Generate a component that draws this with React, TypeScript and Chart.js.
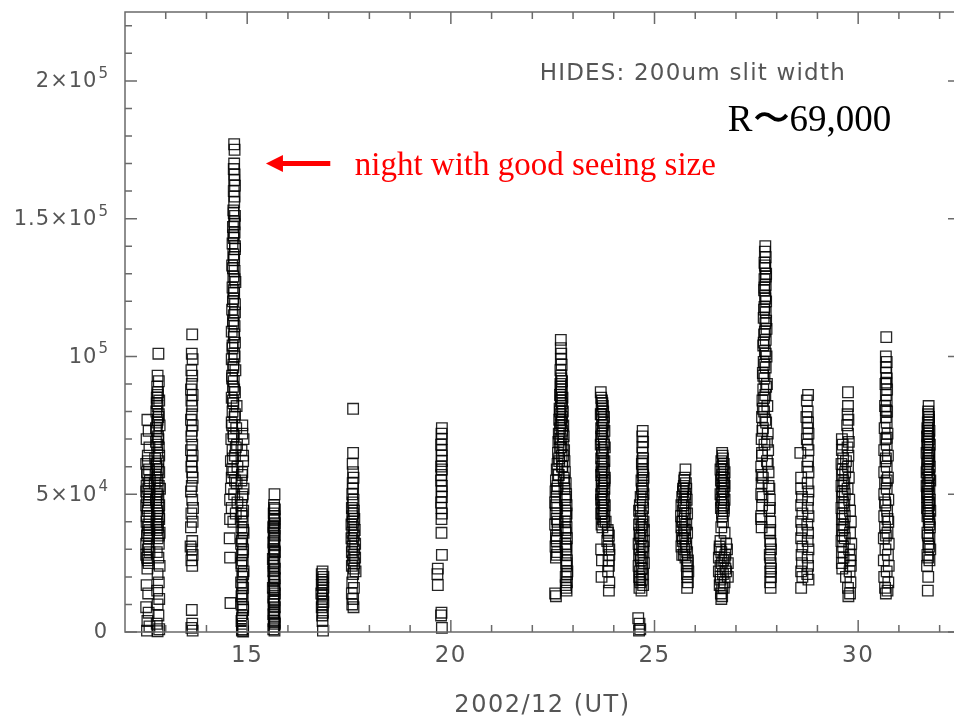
import { useEffect, useRef } from 'react';
import { Chart, registerables } from 'chart.js';

Chart.register(...registerables);

// ---- axis ranges and tick labels ----
const xMin = 12;
const xMax = 32.5;
const yMin = 0;
const yMax = 225000;
const xMajorTicks = [15, 20, 25, 30];
const xTickLabels = ['15', '20', '25', '30'];
const yMajorTicks = [0, 50000, 100000, 150000, 200000];
const yTickBase = ['0', '5×10', '10', '1.5×10', '2×10'];
const yTickExp = ['', '4', '5', '5', '5'];
const xMinorTicks = [13, 14, 16, 17, 18, 19, 21, 22, 23, 24, 26, 27, 28, 29, 31, 32];
const yMinorTicks = [10000, 20000, 30000, 40000, 60000, 70000, 80000, 90000, 110000, 120000, 130000, 140000, 160000, 170000, 180000, 190000, 210000, 220000];
const xTitle = '2002/12 (UT)';
const noteHides = 'HIDES: 200um slit width';
const noteR = 'R〜69,000';
const noteNight = 'night with good seeing size';

// ---- data: [day (UT, 2002/12), counts / 1000] per night ----
const night12: number[][] = [
  [12.55, 77], [12.58, 73], [12.53, 70], [12.6, 67], [12.56, 64], [12.52, 61], [12.59, 59], [12.55, 57], [12.61, 55], [12.53, 53],
  [12.57, 52], [12.6, 50], [12.54, 49], [12.58, 47], [12.52, 46], [12.56, 44], [12.6, 42], [12.53, 40], [12.57, 38], [12.55, 36],
  [12.59, 34], [12.52, 32], [12.56, 30], [12.6, 29], [12.54, 27], [12.58, 25], [12.55, 23], [12.53, 17], [12.57, 14], [12.52, 9],
  [12.58, 7], [12.55, 4], [12.6, 2], [12.54, 0.5],
  [12.56, 62], [12.54, 58], [12.58, 54], [12.52, 51], [12.59, 48], [12.55, 45], [12.53, 42], [12.57, 39], [12.6, 37], [12.54, 35],
  [12.58, 31], [12.52, 28], [12.56, 26],
  [12.82, 101], [12.8, 93], [12.83, 91], [12.79, 89], [12.81, 87], [12.78, 85], [12.84, 84], [12.8, 82], [12.77, 80], [12.82, 78],
  [12.79, 76], [12.85, 75], [12.78, 73], [12.81, 71], [12.76, 69], [12.83, 67], [12.79, 65], [12.74, 63], [12.82, 62], [12.77, 60],
  [12.84, 58], [12.75, 57], [12.8, 55], [12.73, 54], [12.86, 52], [12.78, 51], [12.82, 49], [12.76, 48], [12.84, 46], [12.79, 44],
  [12.83, 42], [12.77, 40], [12.81, 38], [12.85, 36], [12.8, 34], [12.83, 32], [12.78, 29], [12.82, 27], [12.85, 24], [12.8, 21],
  [12.83, 18], [12.79, 15], [12.84, 12], [12.8, 10], [12.82, 6], [12.78, 3], [12.84, 1], [12.8, 0.3],
  [12.8, 86], [12.78, 83], [12.83, 79], [12.8, 77], [12.76, 74], [12.82, 70], [12.79, 68], [12.84, 64], [12.77, 61], [12.81, 59],
  [12.78, 56], [12.83, 53], [12.8, 50], [12.77, 47], [12.82, 45], [12.79, 43], [12.84, 41], [12.8, 39], [12.78, 37], [12.83, 35],
];
const night13: number[][] = [
  [13.65, 108], [13.64, 101], [13.66, 99], [13.63, 95], [13.65, 93], [13.64, 90], [13.62, 88], [13.66, 86], [13.63, 84], [13.65, 82],
  [13.64, 79], [13.62, 77], [13.66, 75], [13.64, 73], [13.63, 71], [13.65, 68], [13.62, 66], [13.66, 64], [13.64, 62], [13.63, 60],
  [13.65, 58], [13.66, 56], [13.64, 53], [13.62, 51], [13.65, 48], [13.67, 45], [13.63, 43], [13.66, 40], [13.62, 38], [13.65, 33],
  [13.61, 31], [13.64, 30], [13.66, 28], [13.63, 26], [13.65, 24], [13.64, 8], [13.65, 3], [13.63, 1.5], [13.66, 0.5],
];
const night14: number[][] = [
  [14.68, 177], [14.69, 175], [14.68, 170], [14.67, 168], [14.69, 166], [14.68, 164], [14.7, 162], [14.67, 160], [14.69, 158], [14.68, 156],
  [14.66, 153], [14.7, 151], [14.68, 149], [14.65, 147], [14.69, 145], [14.67, 143], [14.64, 141], [14.7, 139], [14.66, 137], [14.68, 135],
  [14.63, 133], [14.69, 131], [14.66, 129], [14.71, 127], [14.64, 125], [14.68, 123], [14.66, 121], [14.7, 119], [14.63, 117], [14.67, 115],
  [14.65, 113], [14.69, 111], [14.62, 109], [14.67, 107], [14.7, 105], [14.64, 103], [14.68, 101], [14.62, 99], [14.66, 97], [14.71, 95],
  [14.63, 93], [14.67, 91], [14.65, 89], [14.7, 87], [14.62, 85], [14.66, 83], [14.74, 82], [14.64, 80], [14.69, 78], [14.62, 76],
  [14.73, 74], [14.66, 72], [14.61, 70], [14.75, 68], [14.64, 66], [14.7, 64], [14.6, 62], [14.76, 60], [14.66, 58], [14.62, 56],
  [14.74, 54], [14.6, 52], [14.68, 50], [14.58, 48], [14.76, 47], [14.62, 45], [14.72, 43], [14.58, 41], [14.66, 40], [14.57, 34],
  [14.58, 27], [14.59, 10.5],
  [14.67, 152], [14.69, 148], [14.66, 144], [14.7, 140], [14.67, 136], [14.65, 132], [14.69, 128], [14.67, 124], [14.65, 120], [14.7, 116],
  [14.66, 112], [14.68, 108], [14.64, 104], [14.69, 100], [14.66, 96], [14.63, 92], [14.68, 88], [14.65, 84], [14.7, 79], [14.63, 75],
  [14.67, 71], [14.72, 67], [14.65, 63], [14.63, 59], [14.7, 55],
  [14.88, 75], [14.91, 70], [14.86, 66], [14.9, 62], [14.88, 58], [14.86, 55], [14.91, 52], [14.88, 49], [14.86, 46], [14.9, 44],
  [14.87, 42], [14.89, 40], [14.86, 38], [14.91, 36], [14.88, 34], [14.85, 32], [14.9, 30], [14.87, 28], [14.89, 26], [14.86, 24],
  [14.91, 22], [14.88, 20], [14.85, 18], [14.9, 16], [14.87, 14], [14.89, 12], [14.86, 10], [14.9, 8], [14.88, 6], [14.86, 4],
  [14.89, 2], [14.87, 0.5], [14.9, 0.2],
  [14.88, 72], [14.9, 64], [14.87, 57], [14.89, 50], [14.86, 43], [14.9, 37], [14.87, 33], [14.89, 29], [14.86, 25], [14.9, 21],
  [14.88, 17], [14.86, 13], [14.9, 9], [14.87, 5], [14.89, 3], [14.88, 1],
];
const night15: number[][] = [
  [15.67, 50], [15.66, 46], [15.68, 44.5], [15.65, 43], [15.67, 42], [15.66, 40.5], [15.68, 39.5], [15.64, 38], [15.67, 37.5], [15.65, 36],
  [15.68, 35], [15.66, 34], [15.64, 32.5], [15.67, 31.5], [15.65, 30], [15.68, 29], [15.66, 28], [15.63, 26.5], [15.67, 25.5], [15.65, 24],
  [15.68, 23], [15.64, 22], [15.66, 21], [15.68, 19.5], [15.65, 18.5], [15.67, 17], [15.63, 16], [15.66, 15], [15.68, 14], [15.64, 12.5],
  [15.67, 11.5], [15.65, 10], [15.68, 9], [15.66, 8], [15.64, 6.5], [15.67, 5.5], [15.65, 4], [15.68, 3], [15.66, 2], [15.64, 1],
  [15.67, 0.5],
  [15.66, 45], [15.67, 41], [15.65, 38.5], [15.66, 33], [15.67, 29.5], [15.65, 25], [15.66, 20], [15.67, 15.5], [15.65, 11], [15.66, 7],
  [15.67, 3.5],
];
const night16: number[][] = [
  [16.85, 22], [16.83, 21], [16.87, 20], [16.84, 19], [16.86, 18], [16.83, 17], [16.87, 16], [16.85, 15], [16.82, 14], [16.86, 13.5],
  [16.84, 12], [16.87, 11], [16.85, 10], [16.83, 9], [16.86, 7], [16.84, 6], [16.85, 4], [16.86, 0.5],
];
const night17: number[][] = [
  [17.6, 81], [17.6, 65], [17.59, 61], [17.6, 58], [17.61, 56], [17.59, 54], [17.6, 52], [17.58, 50], [17.61, 48], [17.59, 47],
  [17.57, 45], [17.62, 44], [17.6, 43], [17.58, 42], [17.63, 41], [17.59, 40], [17.56, 39], [17.61, 38], [17.64, 37], [17.58, 36],
  [17.62, 35], [17.56, 34], [17.6, 33], [17.65, 32], [17.58, 31], [17.63, 30], [17.57, 29], [17.61, 28], [17.65, 27], [17.59, 26],
  [17.63, 25], [17.57, 24], [17.62, 23], [17.66, 22], [17.6, 21], [17.58, 18], [17.62, 16], [17.57, 14], [17.6, 12], [17.58, 10],
  [17.61, 9],
];
const night19: number[][] = [
  [19.78, 74], [19.77, 72], [19.78, 70], [19.76, 68], [19.78, 66], [19.77, 64], [19.78, 62], [19.76, 60], [19.78, 59], [19.77, 57],
  [19.76, 55], [19.78, 53], [19.77, 51], [19.78, 49], [19.76, 47], [19.77, 45], [19.78, 43], [19.77, 41], [19.77, 36], [19.78, 28],
  [19.68, 23], [19.67, 21], [19.68, 17], [19.77, 7], [19.76, 6], [19.78, 1.5],
];
const night22: number[][] = [
  [22.7, 106], [22.7, 103], [22.71, 101], [22.7, 99], [22.72, 97], [22.69, 95], [22.71, 93], [22.73, 91], [22.7, 89], [22.72, 88],
  [22.68, 86], [22.74, 85], [22.7, 84], [22.72, 82], [22.67, 81], [22.75, 80], [22.69, 79], [22.73, 78], [22.66, 77], [22.71, 76],
  [22.76, 75], [22.68, 74], [22.73, 73], [22.65, 72], [22.77, 71], [22.7, 70], [22.64, 69], [22.75, 68], [22.68, 67], [22.78, 66],
  [22.63, 65], [22.72, 64], [22.66, 63], [22.79, 62], [22.62, 61], [22.74, 60], [22.6, 59], [22.8, 58], [22.65, 57], [22.77, 56],
  [22.58, 55], [22.82, 54], [22.62, 53], [22.79, 52], [22.57, 51], [22.83, 50], [22.6, 49], [22.8, 48], [22.56, 47], [22.84, 46],
  [22.61, 45], [22.81, 44], [22.57, 43], [22.83, 42], [22.6, 41], [22.8, 40], [22.56, 39], [22.84, 38], [22.62, 37], [22.82, 36],
  [22.58, 35], [22.85, 34], [22.6, 33], [22.81, 32], [22.57, 31], [22.84, 30], [22.61, 29], [22.82, 28], [22.58, 27], [22.85, 26],
  [22.83, 24], [22.86, 22], [22.82, 20], [22.85, 18], [22.83, 16], [22.56, 14], [22.58, 13], [22.84, 15],
  [22.71, 92], [22.69, 90], [22.72, 87], [22.7, 85], [22.73, 83], [22.68, 80], [22.72, 77], [22.69, 75], [22.74, 72], [22.67, 70],
  [22.71, 67], [22.76, 64], [22.66, 62], [22.73, 60], [22.63, 57], [22.78, 55], [22.6, 52], [22.82, 49], [22.58, 46], [22.84, 43],
  [22.62, 40], [22.81, 37], [22.59, 34], [22.83, 31], [22.6, 28], [22.84, 25], [22.85, 21], [22.82, 17],
];
const night23: number[][] = [
  [23.68, 87], [23.69, 85], [23.72, 83], [23.7, 81], [23.74, 80], [23.68, 79], [23.76, 78], [23.71, 77], [23.73, 75], [23.69, 74],
  [23.77, 73], [23.72, 72], [23.7, 70], [23.75, 69], [23.68, 68], [23.78, 67], [23.71, 66], [23.74, 65], [23.69, 63], [23.77, 62],
  [23.72, 61], [23.7, 60], [23.76, 59], [23.73, 58], [23.69, 57], [23.78, 56], [23.71, 55], [23.75, 54], [23.7, 53], [23.77, 52],
  [23.72, 51], [23.69, 50], [23.76, 49], [23.73, 48], [23.7, 47], [23.78, 46], [23.72, 45], [23.75, 44], [23.69, 43], [23.77, 42],
  [23.73, 41], [23.8, 40], [23.7, 39], [23.85, 37], [23.88, 35], [23.84, 33], [23.87, 31], [23.69, 30], [23.89, 28], [23.71, 26],
  [23.88, 24], [23.86, 22], [23.7, 20], [23.89, 18], [23.88, 15],
  [23.71, 84], [23.73, 82], [23.7, 79], [23.75, 76], [23.72, 73], [23.69, 71], [23.76, 68], [23.71, 65], [23.74, 62], [23.7, 58],
  [23.77, 55], [23.72, 52], [23.69, 48], [23.75, 46], [23.71, 43], [23.76, 40], [23.72, 38], [23.86, 36], [23.89, 30], [23.87, 26],
];
const night24: number[][] = [
  [24.71, 73], [24.7, 71], [24.72, 69], [24.7, 67], [24.71, 65], [24.72, 63], [24.69, 61], [24.72, 59], [24.7, 58], [24.73, 56],
  [24.68, 55], [24.72, 53], [24.7, 51], [24.73, 50], [24.66, 49], [24.71, 47], [24.64, 46], [24.72, 45], [24.62, 44], [24.7, 42],
  [24.65, 41], [24.73, 40], [24.62, 39], [24.68, 38], [24.74, 37], [24.63, 36], [24.7, 35], [24.66, 34], [24.74, 33], [24.61, 32],
  [24.69, 31], [24.64, 30], [24.73, 29], [24.62, 28], [24.7, 27], [24.66, 26], [24.74, 25], [24.61, 24], [24.68, 23], [24.64, 22],
  [24.72, 21], [24.62, 20], [24.69, 19], [24.65, 18], [24.72, 17], [24.63, 16], [24.68, 15], [24.6, 5], [24.63, 3], [24.65, 1],
  [24.62, 0.5],
  [24.7, 62], [24.72, 57], [24.69, 52], [24.71, 48], [24.66, 44], [24.7, 39], [24.64, 35], [24.72, 31], [24.66, 27], [24.7, 23],
  [24.64, 19],
];
const night25: number[][] = [
  [25.76, 59], [25.74, 56], [25.77, 54], [25.72, 53], [25.78, 52], [25.7, 51], [25.75, 50], [25.68, 49], [25.79, 48], [25.72, 47],
  [25.66, 46], [25.76, 45], [25.7, 44], [25.8, 43], [25.65, 42], [25.74, 41], [25.68, 40], [25.78, 39], [25.66, 38], [25.72, 37],
  [25.8, 36], [25.67, 35], [25.75, 34], [25.69, 33], [25.78, 32], [25.66, 31], [25.73, 30], [25.8, 29], [25.68, 28], [25.76, 27],
  [25.82, 26], [25.79, 24], [25.83, 22], [25.8, 20], [25.82, 18], [25.8, 16],
  [25.73, 55], [25.7, 52], [25.76, 49], [25.71, 46], [25.74, 43], [25.69, 40], [25.75, 37], [25.7, 34], [25.77, 31], [25.72, 28],
  [25.81, 25], [25.8, 21],
];
const night26: number[][] = [
  [26.66, 65], [26.68, 63], [26.64, 62], [26.7, 61], [26.66, 60], [26.62, 59], [26.72, 58], [26.66, 57], [26.7, 56], [26.63, 55],
  [26.68, 54], [26.72, 53], [26.65, 52], [26.7, 51], [26.62, 50], [26.68, 49], [26.72, 48], [26.65, 47], [26.69, 46], [26.63, 45],
  [26.7, 44], [26.66, 42], [26.68, 40], [26.64, 38], [26.72, 36], [26.62, 33], [26.76, 32], [26.6, 31], [26.78, 30], [26.64, 29],
  [26.74, 28], [26.58, 27], [26.69, 26], [26.8, 25], [26.62, 24], [26.74, 23], [26.58, 22], [26.68, 21], [26.8, 20], [26.62, 19],
  [26.72, 18], [26.6, 17], [26.66, 16], [26.63, 14], [26.64, 12],
  [26.67, 64], [26.69, 59], [26.65, 56], [26.71, 54], [26.67, 51], [26.64, 48], [26.7, 45], [26.66, 43], [26.6, 30], [26.72, 27],
  [26.65, 25], [26.76, 22], [26.62, 20], [26.7, 16], [26.66, 13],
];
const night27: number[][] = [
  [27.72, 140], [27.71, 138], [27.73, 136], [27.7, 134], [27.72, 132], [27.74, 130], [27.7, 128], [27.73, 126], [27.69, 124], [27.72, 122],
  [27.74, 120], [27.7, 118], [27.73, 116], [27.68, 114], [27.72, 112], [27.75, 110], [27.69, 108], [27.73, 106], [27.67, 104], [27.71, 102],
  [27.75, 100], [27.68, 98], [27.73, 96], [27.66, 94], [27.7, 92], [27.76, 90], [27.67, 88], [27.72, 86], [27.65, 84], [27.77, 82],
  [27.69, 80], [27.64, 78], [27.74, 76], [27.66, 74], [27.78, 72], [27.63, 70], [27.7, 68], [27.79, 66], [27.64, 64], [27.76, 62],
  [27.62, 60], [27.8, 58], [27.66, 56], [27.63, 54], [27.82, 52], [27.62, 50], [27.83, 48], [27.64, 46], [27.82, 44], [27.62, 42],
  [27.84, 40], [27.63, 38], [27.83, 36], [27.84, 33], [27.86, 30], [27.83, 28], [27.85, 25], [27.84, 22], [27.86, 20], [27.84, 18],
  [27.85, 16],
  [27.71, 133], [27.73, 129], [27.7, 125], [27.72, 121], [27.69, 117], [27.74, 113], [27.71, 109], [27.68, 105], [27.73, 101], [27.7, 97],
  [27.67, 93], [27.74, 89], [27.69, 85], [27.66, 81], [27.72, 77], [27.65, 73], [27.76, 69], [27.64, 65], [27.78, 61], [27.63, 57],
  [27.8, 53], [27.65, 49], [27.83, 45], [27.62, 41], [27.84, 37], [27.85, 32], [27.84, 27], [27.86, 23],
];
const night28: number[][] = [
  [28.77, 86], [28.74, 84], [28.76, 80], [28.73, 78], [28.77, 76], [28.75, 74], [28.78, 72], [28.74, 70], [28.76, 68], [28.78, 66],
  [28.58, 65], [28.77, 62], [28.75, 60], [28.78, 58], [28.6, 56], [28.76, 54], [28.6, 52], [28.78, 51], [28.62, 49], [28.77, 48],
  [28.6, 46], [28.76, 45], [28.63, 43], [28.78, 42], [28.6, 40], [28.75, 39], [28.62, 37], [28.77, 36], [28.6, 34], [28.76, 33],
  [28.63, 31], [28.78, 30], [28.61, 28], [28.76, 27], [28.62, 25], [28.77, 24], [28.6, 22], [28.75, 21], [28.63, 20], [28.78, 19],
  [28.6, 16],
];
const night29: number[][] = [
  [29.75, 87], [29.75, 82], [29.74, 79], [29.76, 77], [29.73, 75], [29.75, 72], [29.6, 70], [29.77, 69], [29.62, 68], [29.74, 67],
  [29.6, 66], [29.76, 64], [29.63, 63], [29.7, 62], [29.59, 61], [29.75, 60], [29.62, 59], [29.68, 58], [29.6, 57], [29.77, 56],
  [29.63, 55], [29.66, 54], [29.59, 53], [29.74, 52], [29.62, 51], [29.67, 50], [29.6, 49], [29.78, 48], [29.63, 47], [29.66, 46],
  [29.59, 45], [29.8, 44], [29.62, 43], [29.67, 42], [29.6, 41], [29.82, 40], [29.63, 39], [29.66, 38], [29.6, 37], [29.8, 36],
  [29.62, 35], [29.67, 34], [29.59, 33], [29.83, 32], [29.63, 31], [29.78, 30], [29.6, 29], [29.82, 28], [29.64, 27], [29.8, 26],
  [29.6, 25], [29.82, 24], [29.61, 23], [29.79, 22], [29.7, 20], [29.81, 18], [29.75, 16], [29.8, 14], [29.76, 13],
];
const night30: number[][] = [
  [30.69, 107], [30.68, 100], [30.7, 98], [30.68, 96], [30.69, 94], [30.7, 92], [30.67, 90], [30.71, 88], [30.68, 86], [30.7, 84],
  [30.66, 82], [30.71, 80], [30.68, 78], [30.7, 76], [30.65, 74], [30.72, 72], [30.67, 70], [30.7, 68], [30.64, 66], [30.73, 64],
  [30.67, 62], [30.7, 60], [30.64, 58], [30.73, 56], [30.66, 54], [30.7, 52], [30.64, 50], [30.74, 48], [30.67, 46], [30.71, 44],
  [30.64, 42], [30.74, 40], [30.66, 38], [30.72, 36], [30.63, 34], [30.75, 32], [30.67, 30], [30.73, 28], [30.63, 26], [30.75, 24],
  [30.7, 22], [30.64, 20], [30.74, 18], [30.66, 16], [30.72, 15], [30.68, 14],
  [30.69, 90.5], [30.68, 80.5], [30.7, 70.5], [30.68, 63], [30.7, 55], [30.66, 47], [30.72, 41], [30.68, 35],
];
const night31: number[][] = [
  [31.73, 82], [31.72, 80], [31.74, 78], [31.71, 76], [31.73, 75], [31.7, 74], [31.75, 73], [31.72, 72], [31.69, 71], [31.74, 70],
  [31.71, 69], [31.76, 68], [31.7, 67], [31.73, 66], [31.68, 65], [31.75, 64], [31.71, 63], [31.74, 62], [31.69, 61], [31.76, 60],
  [31.72, 59], [31.68, 58], [31.74, 57], [31.7, 56], [31.77, 55], [31.72, 54], [31.68, 53], [31.75, 52], [31.7, 51], [31.73, 50],
  [31.69, 49], [31.76, 48], [31.71, 47], [31.74, 46], [31.69, 45], [31.77, 44], [31.72, 43], [31.7, 42], [31.75, 41], [31.73, 40],
  [31.76, 38], [31.7, 36], [31.75, 34], [31.72, 32], [31.77, 30], [31.7, 28], [31.75, 26], [31.69, 24], [31.72, 20], [31.71, 15],
  [31.72, 79], [31.74, 77], [31.71, 73], [31.73, 71], [31.7, 68], [31.74, 65], [31.72, 62], [31.7, 59], [31.75, 56], [31.72, 53],
  [31.7, 50], [31.74, 47], [31.72, 44], [31.75, 39], [31.71, 35], [31.74, 31], [31.72, 27],
];

const nights = [night12, night13, night14, night15, night16, night17, night19, night22, night23, night24, night25, night26, night27, night28, night29, night30, night31];

const AXIS_COLOR = '#6a6a6a';
const LABEL_COLOR = '#555555';

const framePlugin = {
  id: 'frame',
  beforeDraw(chart: any) {
    chart.ctx.letterSpacing = '1.5px';
  },
  afterDatasetsDraw(chart: any) {
    const { ctx, chartArea } = chart;
    const xs = chart.scales.x;
    const ys = chart.scales.y;
    const { left, right, top, bottom } = chartArea;
    ctx.save();
    ctx.strokeStyle = AXIS_COLOR;
    ctx.lineWidth = 1.5;
    ctx.beginPath();
    // left, bottom and top axis lines (right axis lies beyond the picture's edge)
    ctx.moveTo(right + 20, top);
    ctx.lineTo(left, top);
    ctx.lineTo(left, bottom);
    ctx.lineTo(right + 20, bottom);
    ctx.stroke();
    ctx.beginPath();
    const major = 12;
    const minor = 7;
    for (const v of xMajorTicks.concat(xMinorTicks)) {
      const p = xs.getPixelForValue(v);
      const l = xMajorTicks.includes(v) ? major : minor;
      ctx.moveTo(p, bottom); ctx.lineTo(p, bottom - l);
      ctx.moveTo(p, top); ctx.lineTo(p, top + l);
    }
    for (const v of yMajorTicks.concat(yMinorTicks)) {
      const p = ys.getPixelForValue(v);
      const l = yMajorTicks.includes(v) ? major : minor;
      ctx.moveTo(left, p); ctx.lineTo(left + l, p);
      if (l === major) { ctx.moveTo(right, p); ctx.lineTo(right - l, p); }
    }
    ctx.stroke();
    ctx.restore();
  },
  afterDraw(chart: any) {
    const { ctx } = chart;
    const xs = chart.scales.x;
    const ys = chart.scales.y;
    ctx.save();
    // y tick labels with superscript exponents
    ctx.fillStyle = LABEL_COLOR;
    ctx.textAlign = 'right';
    ctx.textBaseline = 'middle';
    const labelRight = xs.left - 17;
    yMajorTicks.forEach((v, i) => {
      const p = ys.getPixelForValue(v);
      let r = labelRight;
      if (yTickExp[i]) {
        ctx.letterSpacing = '0px';
        ctx.font = '15px "DejaVu Sans"';
        ctx.fillText(yTickExp[i], r, p - 7);
        r -= ctx.measureText(yTickExp[i]).width + 1;
      }
      ctx.letterSpacing = '1px';
      ctx.font = '21px "DejaVu Sans"';
      ctx.fillText(yTickBase[i], r, p + 1);
    });
    ctx.textAlign = 'left';
    ctx.fillStyle = LABEL_COLOR;
    ctx.letterSpacing = '1.2px';
    ctx.font = '23px "DejaVu Sans"';
    ctx.fillText(noteHides, xs.getPixelForValue(22.18), ys.getPixelForValue(202500));
    ctx.letterSpacing = '0px';
    ctx.fillStyle = '#000';
    ctx.font = '37px "Liberation Serif"';
    ctx.fillText(noteR, xs.getPixelForValue(26.8), ys.getPixelForValue(185400));
    ctx.fillStyle = '#ff0000';
    ctx.font = '33px "Liberation Serif"';
    ctx.fillText(noteNight, xs.getPixelForValue(17.64), ys.getPixelForValue(169000));
    // arrow
    const ay = ys.getPixelForValue(170000);
    const tipX = xs.getPixelForValue(15.46);
    const tailX = xs.getPixelForValue(17.04);
    ctx.strokeStyle = '#ff0000';
    ctx.lineWidth = 5;
    ctx.beginPath();
    ctx.moveTo(tailX, ay);
    ctx.lineTo(tipX + 14, ay);
    ctx.stroke();
    ctx.beginPath();
    ctx.moveTo(tipX, ay);
    ctx.lineTo(tipX + 17, ay - 8.5);
    ctx.lineTo(tipX + 17, ay + 8.5);
    ctx.closePath();
    ctx.fill();
    ctx.restore();
  },
};

export default function App() {
  const ref = useRef<HTMLCanvasElement>(null);
  useEffect(() => {
    if (!ref.current) return;
    const data = nights.flat().map(([x, y]) => ({ x, y: y * 1000 }));
    const chart = new Chart(ref.current, {
      type: 'scatter',
      data: {
        datasets: [
          {
            data,
            pointStyle: 'rect',
            pointRadius: 7.5,
            borderWidth: 1.3,
            borderColor: 'rgba(0,0,0,0.85)',
            backgroundColor: 'rgba(0,0,0,0)',
            clip: 20,
          } as any,
        ],
      },
      options: {
        responsive: false,
        animation: false,
        events: [],
        layout: { padding: { left: 0, top: 12, right: 10, bottom: 0 } },
        plugins: { legend: { display: false }, tooltip: { enabled: false }, title: { display: false } },
        scales: {
          x: {
            type: 'linear',
            min: xMin,
            max: xMax,
            grid: { display: false, drawTicks: false },
            border: { display: false },
            afterBuildTicks: (s: any) => { s.ticks = xMajorTicks.map((v) => ({ value: v })); },
            afterFit: (s: any) => { s.height = 93; s.paddingLeft = 0; s.paddingRight = 0; },
            ticks: {
              autoSkip: false,
              maxRotation: 0,
              padding: 10,
              color: LABEL_COLOR,
              font: { family: '"DejaVu Sans"', size: 23 },
              callback: (v: any) => xTickLabels[xMajorTicks.indexOf(Number(v))] ?? '',
            },
            title: {
              display: true,
              text: xTitle,
              color: LABEL_COLOR,
              font: { family: '"DejaVu Sans"', size: 24 },
              padding: { top: 0, bottom: 5 },
            },
          },
          y: {
            type: 'linear',
            min: yMin,
            max: yMax,
            grid: { display: false, drawTicks: false },
            border: { display: false },
            afterBuildTicks: (s: any) => { s.ticks = yMajorTicks.map((v) => ({ value: v })); },
            afterFit: (s: any) => { s.width = 125; s.paddingTop = 0; s.paddingBottom = 0; },
            ticks: { display: false },
          },
        },
      },
      plugins: [framePlugin],
    });
    return () => chart.destroy();
  }, []);
  return (
    <div style={{ position: 'absolute', left: 0, top: 0, width: 954, height: 725, overflow: 'hidden', background: '#fff' }}>
      <canvas ref={ref} width={970} height={725} style={{ display: 'block', width: 970, height: 725 }} />
    </div>
  );
}
